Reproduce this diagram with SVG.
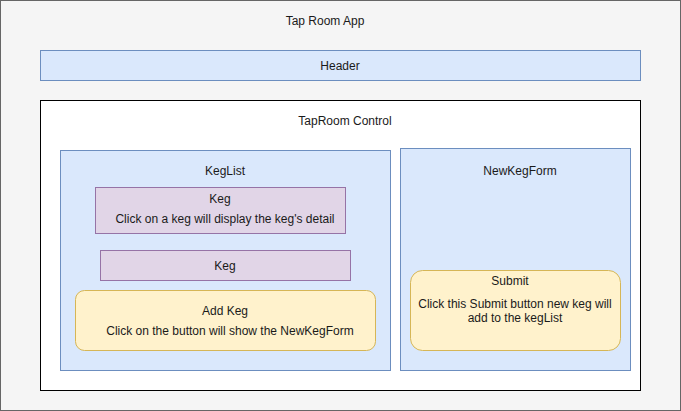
<svg xmlns="http://www.w3.org/2000/svg" width="681" height="411" viewBox="0 0 681 411">
<style>
text{font-family:"Liberation Sans",Arial,sans-serif;font-size:12px;fill:#1a1a1a;text-anchor:middle}
.blue{fill:#dae8fc;stroke:#6c8ebf}
.purple{fill:#e1d5e7;stroke:#9673a6}
.yellow{fill:#fff2cc;stroke:#d6b656}
</style>
<g id="app"><rect x="0.5" y="0.5" width="680" height="410" fill="#f5f5f5" stroke="#666666"/><text x="325" y="25">Tap Room App</text></g>
<g id="header"><rect class="blue" x="40.5" y="50.5" width="600" height="30"/><text x="340" y="70">Header</text></g>
<g id="control"><rect x="40.5" y="100.5" width="600" height="290" fill="#ffffff" stroke="#000000"/><text x="345" y="125">TapRoom Control</text></g>
<g id="keglist"><rect class="blue" x="60.5" y="150.5" width="330" height="220"/><text x="225" y="175">KegList</text></g>
<g id="keg1"><rect class="purple" x="95.5" y="187.5" width="250" height="46"/><text x="220" y="203">Keg</text><text x="225" y="223">Click on a keg will display the keg's detail</text></g>
<g id="keg2"><rect class="purple" x="100.5" y="250.5" width="250" height="30"/><text x="225" y="270">Keg</text></g>
<g id="addkeg"><rect class="yellow" x="75.5" y="290.5" width="300" height="60" rx="9"/><text x="225" y="315">Add Keg</text><text x="230" y="335">Click on the button will show the NewKegForm</text></g>
<g id="newkegform"><rect class="blue" x="400.5" y="148.5" width="230" height="222"/><text x="520" y="175">NewKegForm</text></g>
<g id="submit"><rect class="yellow" x="410.5" y="270.5" width="210" height="80" rx="12"/><text x="510" y="285">Submit</text><text x="515" y="308">Click this Submit button new keg will</text><text x="515" y="322">add to the kegList</text></g>
<g id="connectors"/>
</svg>
